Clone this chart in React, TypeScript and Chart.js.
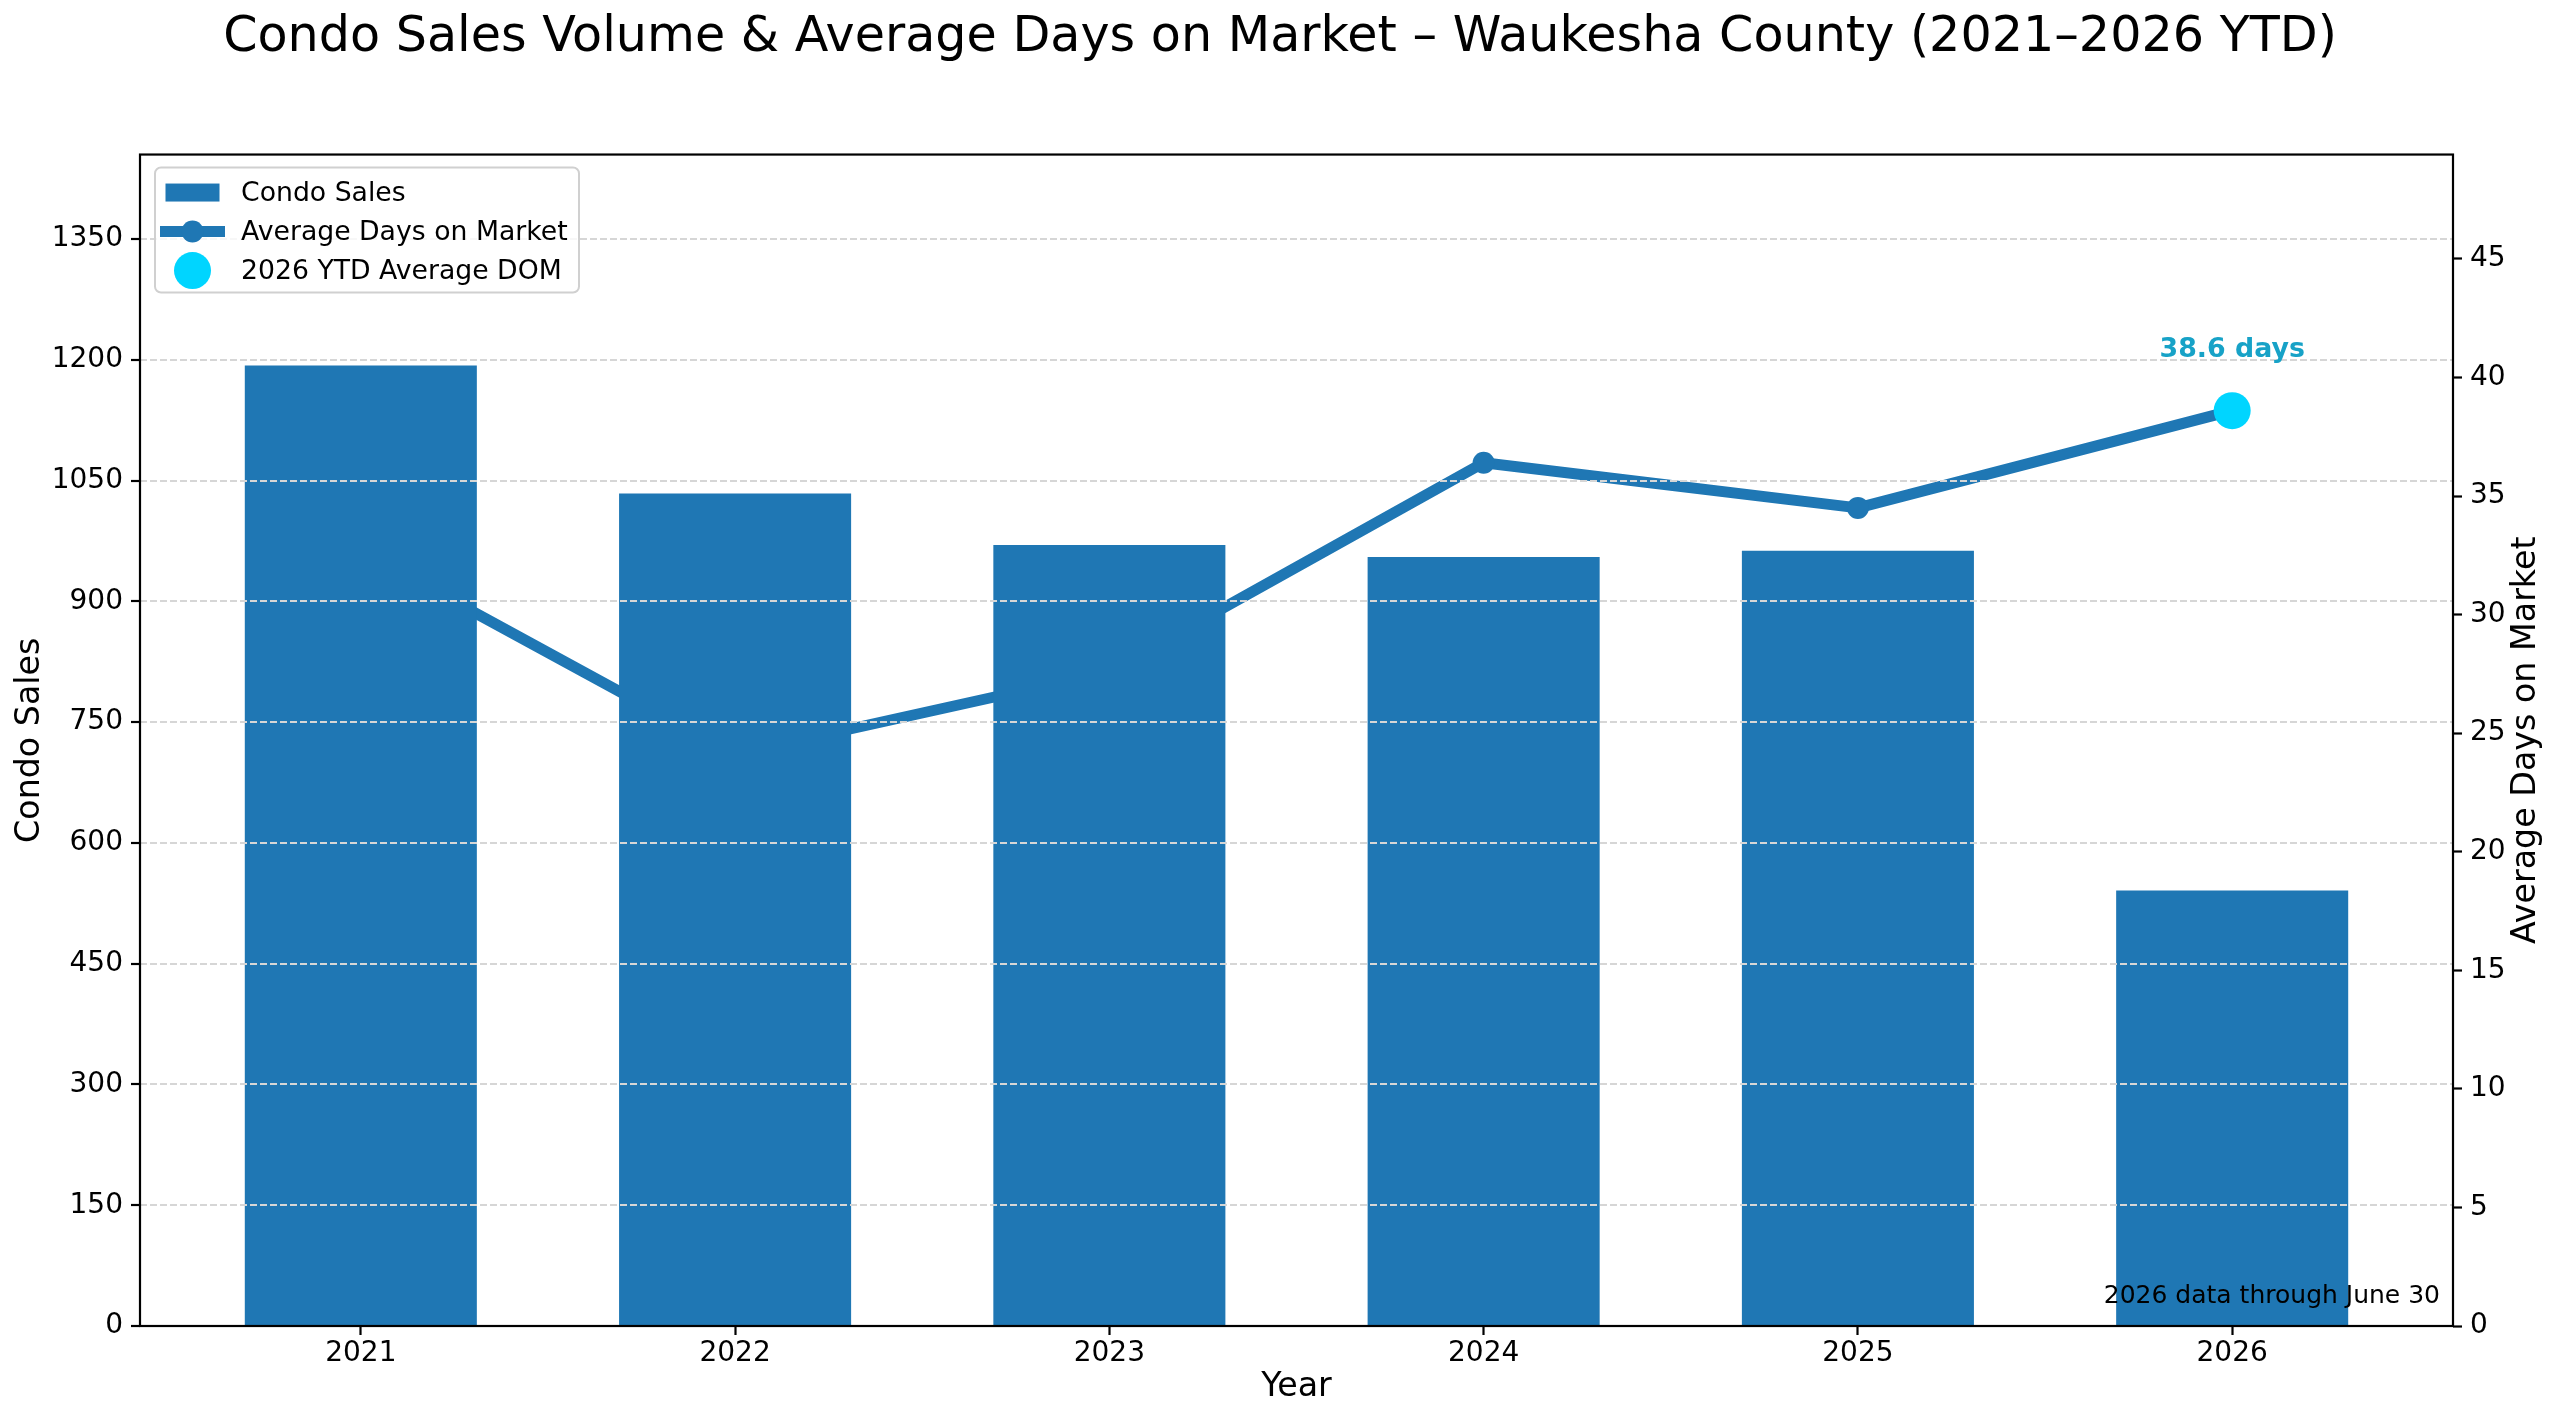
import { useEffect, useRef } from 'react';
import { Chart, registerables } from 'chart.js';

Chart.register(...registerables);

const years = ['2021', '2022', '2023', '2024', '2025', '2026'];
const condoSales = [1193, 1034, 970, 955, 963, 541];
const avgDaysOnMarket = [32.7, 24.1, 27.6, 36.4, 34.5, 38.6];
const ytdIndex = 5;
const ytdAvgDom = 38.6;
const salesMax = 1455;
const salesStep = 150;
const domMax = 49.4;
const domStep = 5;
const titleText = 'Condo Sales Volume & Average Days on Market – Waukesha County (2021–2026 YTD)';
const noteText = '2026 data through June 30';
const legendLabels = ['Condo Sales', 'Average Days on Market', '2026 YTD Average DOM'];
const xTitle = 'Year';
const yTitle = 'Condo Sales';
const y1Title = 'Average Days on Market';

const BLUE = '#1f77b4';
const CYAN = '#00d5ff';
const TEAL = '#17a2c7';
const GRID = '#d6d6d6';
const FONT = '"DejaVu Sans", sans-serif';

const overlayPlugin = {
  id: 'overlay',
  afterDraw(chart: any) {
    const { ctx, chartArea: a, scales } = chart;
    ctx.save();
    // frame (spines)
    ctx.strokeStyle = '#000';
    ctx.lineWidth = 2.2;
    ctx.setLineDash([]);
    ctx.strokeRect(a.left, a.top, a.right - a.left, a.bottom - a.top);

    // annotation above the YTD point
    const px = scales.x.getPixelForValue(ytdIndex);
    const py = scales.y1.getPixelForValue(ytdAvgDom);
    ctx.font = `bold 26.8px ${FONT}`;
    ctx.fillStyle = TEAL;
    ctx.textAlign = 'center';
    ctx.textBaseline = 'alphabetic';
    ctx.fillText(`${ytdAvgDom} days`, px, py - 54);

    // note bottom-right
    ctx.font = `25px ${FONT}`;
    ctx.fillStyle = '#000';
    ctx.textAlign = 'right';
    ctx.fillText(noteText, a.right - 13, a.bottom - 23);

    // right axis title (reads bottom to top)
    ctx.save();
    ctx.translate(a.right + 73, (a.top + a.bottom) / 2);
    ctx.rotate(-Math.PI / 2);
    ctx.font = `33.3px ${FONT}`;
    ctx.textAlign = 'center';
    ctx.textBaseline = 'middle';
    ctx.fillText(y1Title, 0, 0);
    ctx.restore();

    // legend
    const lx = a.left + 15;
    const ly = a.top + 13;
    const lw = 424;
    const lh = 125;
    const r = 6;
    ctx.beginPath();
    ctx.moveTo(lx + r, ly);
    ctx.lineTo(lx + lw - r, ly);
    ctx.arcTo(lx + lw, ly, lx + lw, ly + r, r);
    ctx.lineTo(lx + lw, ly + lh - r);
    ctx.arcTo(lx + lw, ly + lh, lx + lw - r, ly + lh, r);
    ctx.lineTo(lx + r, ly + lh);
    ctx.arcTo(lx, ly + lh, lx, ly + lh - r, r);
    ctx.lineTo(lx, ly + r);
    ctx.arcTo(lx, ly, lx + r, ly, r);
    ctx.closePath();
    ctx.fillStyle = 'rgba(255,255,255,0.8)';
    ctx.fill();
    ctx.strokeStyle = '#d0d0d0';
    ctx.lineWidth = 2;
    ctx.stroke();

    const hx = lx + 37.5; // handle centre
    const rows = [ly + 25, ly + 64, ly + 103];
    // bar patch
    ctx.fillStyle = BLUE;
    ctx.fillRect(hx - 27, rows[0] - 9, 54, 18);
    // line with marker
    ctx.strokeStyle = BLUE;
    ctx.lineWidth = 11;
    ctx.beginPath();
    ctx.moveTo(hx - 32.5, rows[1]);
    ctx.lineTo(hx + 32.5, rows[1]);
    ctx.stroke();
    ctx.beginPath();
    ctx.arc(hx, rows[1], 11, 0, Math.PI * 2);
    ctx.fill();
    // cyan point
    ctx.fillStyle = CYAN;
    ctx.beginPath();
    ctx.arc(hx, rows[2], 18.5, 0, Math.PI * 2);
    ctx.fill();

    ctx.fillStyle = '#000';
    ctx.font = `26.7px ${FONT}`;
    ctx.textAlign = 'left';
    ctx.textBaseline = 'middle';
    legendLabels.forEach((t, i) => ctx.fillText(t, lx + 86, rows[i] + 1.5));
    ctx.restore();
  },
};

export default function App() {
  const ref = useRef<HTMLCanvasElement | null>(null);

  useEffect(() => {
    document.body.style.margin = '0';
    Chart.defaults.font.family = FONT;
    Chart.defaults.color = '#000';

    const chart = new Chart(ref.current as HTMLCanvasElement, {
      type: 'bar',
      data: {
        datasets: [
          {
            type: 'bar',
            label: legendLabels[0],
            data: years.map((_, i) => ({ x: i, y: condoSales[i] })),
            backgroundColor: BLUE,
            yAxisID: 'y',
            barPercentage: 0.62,
            categoryPercentage: 1,
            order: 1,
          },
          {
            type: 'line',
            label: legendLabels[1],
            data: years.map((_, i) => ({ x: i, y: avgDaysOnMarket[i] })),
            borderColor: BLUE,
            backgroundColor: BLUE,
            borderWidth: 11,
            borderJoinStyle: 'round',
            pointRadius: 11,
            pointBorderWidth: 0,
            pointBackgroundColor: BLUE,
            tension: 0,
            yAxisID: 'y1',
            order: 2,
          },
          {
            type: 'line',
            label: legendLabels[2],
            data: [{ x: ytdIndex, y: ytdAvgDom }],
            showLine: false,
            pointRadius: 18.5,
            pointBorderWidth: 0,
            pointBackgroundColor: CYAN,
            backgroundColor: CYAN,
            borderColor: CYAN,
            yAxisID: 'y1',
            order: 0,
          },
        ] as any,
      },
      options: {
        animation: false,
        responsive: true,
        maintainAspectRatio: false,
        layout: { padding: 0 },
        plugins: {
          legend: { display: false },
          tooltip: { enabled: false },
          title: {
            display: true,
            text: titleText,
            color: '#000',
            font: { size: 49.2, weight: 'normal', family: FONT, lineHeight: 1.2 },
            padding: { top: 9, bottom: 86.5 },
          },
        },
        scales: {
          x: {
            type: 'linear',
            min: -0.59,
            max: 5.59,
            offset: false,
            ticks: {
              stepSize: 1,
              includeBounds: false,
              autoSkip: false,
              maxRotation: 0,
              padding: 2,
              font: { size: 28 },
              callback: (v: any) => (years[v] !== undefined ? years[v] : ''),
            },
            grid: {
              offset: false,
              drawOnChartArea: false,
              drawTicks: true,
              tickLength: 9,
              tickWidth: 2.2,
              tickColor: '#000',
            },
            border: { display: false },
            title: { display: true, text: xTitle, font: { size: 33.3 }, padding: { top: 0, bottom: 18 } },
            afterFit: (s: any) => {
              s.height = 99;
            },
          },
          y: {
            type: 'linear',
            position: 'left',
            min: 0,
            max: salesMax,
            ticks: {
              stepSize: salesStep,
              includeBounds: false,
              padding: 8,
              font: { size: 28 },
              callback: (v: any) => String(v),
            },
            grid: {
              color: GRID,
              lineWidth: 2,
              tickColor: '#000',
              tickWidth: 2.2,
              tickLength: 9,
              tickBorderDash: [],
              z: 1,
            },
            border: { display: false, dash: [7, 3] },
            title: { display: true, text: yTitle, font: { size: 33.3 }, padding: { top: 10, bottom: 0 } },
            afterFit: (s: any) => {
              s.width = 140;
            },
          },
          y1: {
            type: 'linear',
            position: 'right',
            min: 0,
            max: domMax,
            ticks: {
              stepSize: domStep,
              includeBounds: false,
              padding: 8,
              font: { size: 28 },
              callback: (v: any) => String(v),
            },
            grid: { drawOnChartArea: false, tickColor: '#000', tickWidth: 2.2, tickLength: 9 },
            border: { display: false },
            afterFit: (s: any) => {
              s.width = 107;
            },
          },
        },
      } as any,
      plugins: [overlayPlugin],
    });
    return () => chart.destroy();
  }, []);

  return (
    <div style={{ position: 'fixed', left: 0, top: 0, width: 2560, height: 1425, background: '#fff' }}>
      <canvas ref={ref} />
    </div>
  );
}
